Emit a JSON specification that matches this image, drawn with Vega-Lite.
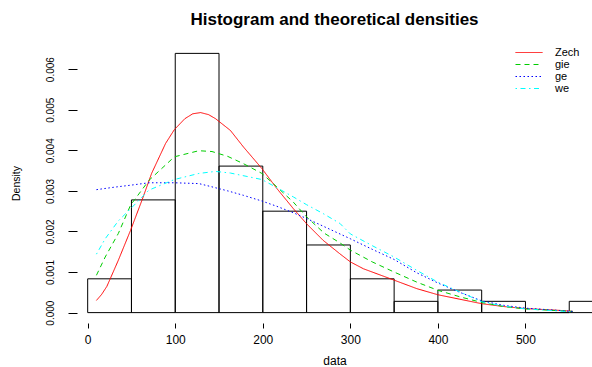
{
  "$schema": "https://vega.github.io/schema/vega-lite/v6.json",
  "autosize": "none",
  "width": 515,
  "height": 280,
  "padding": {"left": 77, "top": 43, "right": 0, "bottom": 44},
  "background": "white",
  "title": {"text": "Histogram and theoretical densities", "font": "Liberation Sans", "fontSize": 17, "fontWeight": "bold", "anchor": "middle", "offset": 14, "color": "black"},
  "config": {
    "view": {"stroke": null},
    "axis": {"grid": false, "domain": false, "tickColor": "black", "tickWidth": 1, "labelColor": "black", "titleColor": "black", "labelFont": "Liberation Sans", "titleFont": "Liberation Sans", "titleFontWeight": "normal"}
  },
  "datasets": {
    "hist": [
      {"start": 0, "end": 50, "density": 0.000833},
      {"start": 50, "end": 100, "density": 0.002778},
      {"start": 100, "end": 150, "density": 0.006389},
      {"start": 150, "end": 200, "density": 0.003611},
      {"start": 200, "end": 250, "density": 0.0025},
      {"start": 250, "end": 300, "density": 0.001667},
      {"start": 300, "end": 350, "density": 0.000833},
      {"start": 350, "end": 400, "density": 0.000278},
      {"start": 400, "end": 450, "density": 0.000556},
      {"start": 450, "end": 500, "density": 0.000278},
      {"start": 500, "end": 550, "density": 0},
      {"start": 550, "end": 600, "density": 0.000278}
    ],
    "curves": [
      {"dist": "Zech", "x": 10, "y": 0.0003},
      {"dist": "Zech", "x": 16, "y": 0.00045},
      {"dist": "Zech", "x": 22, "y": 0.00065},
      {"dist": "Zech", "x": 35, "y": 0.00129},
      {"dist": "Zech", "x": 49, "y": 0.00203},
      {"dist": "Zech", "x": 62, "y": 0.00277},
      {"dist": "Zech", "x": 73, "y": 0.00343},
      {"dist": "Zech", "x": 89, "y": 0.00417},
      {"dist": "Zech", "x": 99, "y": 0.00451},
      {"dist": "Zech", "x": 111, "y": 0.00478},
      {"dist": "Zech", "x": 120, "y": 0.0049},
      {"dist": "Zech", "x": 129, "y": 0.00493},
      {"dist": "Zech", "x": 138, "y": 0.00488},
      {"dist": "Zech", "x": 146, "y": 0.00478},
      {"dist": "Zech", "x": 163, "y": 0.00449},
      {"dist": "Zech", "x": 178, "y": 0.00408},
      {"dist": "Zech", "x": 199, "y": 0.00355},
      {"dist": "Zech", "x": 216, "y": 0.00306},
      {"dist": "Zech", "x": 235, "y": 0.00256},
      {"dist": "Zech", "x": 250, "y": 0.00219},
      {"dist": "Zech", "x": 269, "y": 0.00178},
      {"dist": "Zech", "x": 288, "y": 0.00145},
      {"dist": "Zech", "x": 300, "y": 0.00125},
      {"dist": "Zech", "x": 315, "y": 0.00108},
      {"dist": "Zech", "x": 350, "y": 0.0008},
      {"dist": "Zech", "x": 376, "y": 0.00059},
      {"dist": "Zech", "x": 400, "y": 0.00044},
      {"dist": "Zech", "x": 425, "y": 0.00033},
      {"dist": "Zech", "x": 450, "y": 0.00022},
      {"dist": "Zech", "x": 475, "y": 0.00015},
      {"dist": "Zech", "x": 500, "y": 0.0001},
      {"dist": "Zech", "x": 543, "y": 0.00005},
      {"dist": "Zech", "x": 554, "y": 0.00003},
      {"dist": "gie", "x": 10, "y": 0.00092},
      {"dist": "gie", "x": 20, "y": 0.00137},
      {"dist": "gie", "x": 35, "y": 0.00195},
      {"dist": "gie", "x": 49, "y": 0.00265},
      {"dist": "gie", "x": 70, "y": 0.00326},
      {"dist": "gie", "x": 99, "y": 0.00384},
      {"dist": "gie", "x": 127, "y": 0.00399},
      {"dist": "gie", "x": 142, "y": 0.00397},
      {"dist": "gie", "x": 160, "y": 0.00385},
      {"dist": "gie", "x": 178, "y": 0.00367},
      {"dist": "gie", "x": 199, "y": 0.00343},
      {"dist": "gie", "x": 216, "y": 0.0031},
      {"dist": "gie", "x": 235, "y": 0.00272},
      {"dist": "gie", "x": 250, "y": 0.00236},
      {"dist": "gie", "x": 270, "y": 0.00196},
      {"dist": "gie", "x": 288, "y": 0.00172},
      {"dist": "gie", "x": 300, "y": 0.00154},
      {"dist": "gie", "x": 325, "y": 0.00125},
      {"dist": "gie", "x": 350, "y": 0.001},
      {"dist": "gie", "x": 376, "y": 0.00075},
      {"dist": "gie", "x": 400, "y": 0.00055},
      {"dist": "gie", "x": 425, "y": 0.00039},
      {"dist": "gie", "x": 450, "y": 0.00025},
      {"dist": "gie", "x": 475, "y": 0.00015},
      {"dist": "gie", "x": 500, "y": 0.00009},
      {"dist": "gie", "x": 554, "y": 0.00003},
      {"dist": "ge", "x": 10, "y": 0.00303},
      {"dist": "ge", "x": 30, "y": 0.00309},
      {"dist": "ge", "x": 49, "y": 0.00314},
      {"dist": "ge", "x": 70, "y": 0.0032},
      {"dist": "ge", "x": 99, "y": 0.0032},
      {"dist": "ge", "x": 127, "y": 0.00318},
      {"dist": "ge", "x": 140, "y": 0.00311},
      {"dist": "ge", "x": 160, "y": 0.003},
      {"dist": "ge", "x": 178, "y": 0.00289},
      {"dist": "ge", "x": 199, "y": 0.00275},
      {"dist": "ge", "x": 216, "y": 0.00262},
      {"dist": "ge", "x": 235, "y": 0.00246},
      {"dist": "ge", "x": 250, "y": 0.00232},
      {"dist": "ge", "x": 277, "y": 0.00205},
      {"dist": "ge", "x": 300, "y": 0.00182},
      {"dist": "ge", "x": 325, "y": 0.00156},
      {"dist": "ge", "x": 350, "y": 0.00131},
      {"dist": "ge", "x": 376, "y": 0.00098},
      {"dist": "ge", "x": 400, "y": 0.00073},
      {"dist": "ge", "x": 425, "y": 0.0005},
      {"dist": "ge", "x": 450, "y": 0.00029},
      {"dist": "ge", "x": 475, "y": 0.00018},
      {"dist": "ge", "x": 500, "y": 0.00011},
      {"dist": "ge", "x": 554, "y": 0.00003},
      {"dist": "we", "x": 10, "y": 0.00144},
      {"dist": "we", "x": 20, "y": 0.00182},
      {"dist": "we", "x": 35, "y": 0.00226},
      {"dist": "we", "x": 49, "y": 0.00256},
      {"dist": "we", "x": 70, "y": 0.00302},
      {"dist": "we", "x": 99, "y": 0.00328},
      {"dist": "we", "x": 127, "y": 0.00343},
      {"dist": "we", "x": 146, "y": 0.00348},
      {"dist": "we", "x": 163, "y": 0.00344},
      {"dist": "we", "x": 199, "y": 0.00328},
      {"dist": "we", "x": 216, "y": 0.00308},
      {"dist": "we", "x": 235, "y": 0.00285},
      {"dist": "we", "x": 250, "y": 0.00266},
      {"dist": "we", "x": 269, "y": 0.00244},
      {"dist": "we", "x": 288, "y": 0.0022},
      {"dist": "we", "x": 300, "y": 0.00194},
      {"dist": "we", "x": 325, "y": 0.00165},
      {"dist": "we", "x": 350, "y": 0.00137},
      {"dist": "we", "x": 376, "y": 0.00104},
      {"dist": "we", "x": 400, "y": 0.00075},
      {"dist": "we", "x": 425, "y": 0.00051},
      {"dist": "we", "x": 450, "y": 0.00027},
      {"dist": "we", "x": 475, "y": 0.00016},
      {"dist": "we", "x": 500, "y": 0.00009},
      {"dist": "we", "x": 554, "y": 0.00002}
    ]
  },
  "layer": [
    {
      "data": {"name": "hist"},
      "mark": {"type": "rect", "fill": null, "fillOpacity": 0, "stroke": "black", "strokeWidth": 1, "clip": true},
      "encoding": {
        "x": {"field": "start", "type": "quantitative",
          "scale": {"domain": [-12.2, 576], "nice": false, "zero": false},
          "axis": {"values": [0, 100, 200, 300, 400, 500], "format": "d", "title": "data", "tickSize": 5, "labelFontSize": 12, "labelPadding": 6, "titleFontSize": 12, "titlePadding": 10, "labelFlush": false}},
        "x2": {"field": "end"},
        "y": {"field": "density", "type": "quantitative",
          "scale": {"domain": [-0.000256, 0.006645], "nice": false, "zero": false},
          "axis": {"values": [0, 0.001, 0.002, 0.003, 0.004, 0.005, 0.006], "format": ".3f", "title": "Density", "tickSize": 9, "labelAngle": -90, "labelAlign": "center", "labelBaseline": "bottom", "labelFontSize": 10, "labelPadding": 13, "titleFontSize": 10.5, "titlePadding": 24, "labelFlush": false}},
        "y2": {"datum": 0}
      }
    },
    {
      "data": {"name": "curves"},
      "mark": {"type": "line", "strokeWidth": 1, "clip": true},
      "encoding": {
        "x": {"field": "x", "type": "quantitative"},
        "y": {"field": "y", "type": "quantitative"},
        "color": {"field": "dist", "type": "nominal",
          "scale": {"domain": ["Zech", "gie", "ge", "we"], "range": ["#FF0000", "#00CD00", "#0000FF", "#00FFFF"]},
          "legend": {"title": null, "orient": "none", "legendX": 438, "legendY": 5, "symbolType": "stroke", "symbolSize": 729, "symbolStrokeWidth": 1, "labelFontSize": 11, "labelFont": "Liberation Sans", "labelColor": "black", "labelOffset": 12, "clipHeight": 9, "rowPadding": 0, "padding": 0}},
        "strokeDash": {"field": "dist", "type": "nominal",
          "scale": {"domain": ["Zech", "gie", "ge", "we"], "range": [[1, 0], [5, 4], [1.5, 2.5], [1.5, 3.5, 5, 3.5]]},
          "legend": {"title": null, "orient": "none", "legendX": 438, "legendY": 5, "symbolType": "stroke", "symbolSize": 729, "symbolStrokeWidth": 1, "labelFontSize": 11, "labelFont": "Liberation Sans", "labelColor": "black", "labelOffset": 12, "clipHeight": 9, "rowPadding": 0, "padding": 0}}
      }
    },
    {
      "mark": {"type": "rule", "color": "black", "strokeWidth": 1},
      "encoding": {
        "x": {"datum": 0, "type": "quantitative"},
        "x2": {"datum": 500},
        "y": {"datum": -0.000256, "type": "quantitative"}
      }
    },
    {
      "mark": {"type": "rule", "color": "black", "strokeWidth": 1},
      "encoding": {
        "x": {"datum": -12.2, "type": "quantitative"},
        "y": {"datum": 0, "type": "quantitative"},
        "y2": {"datum": 0.006}
      }
    }
  ]
}
